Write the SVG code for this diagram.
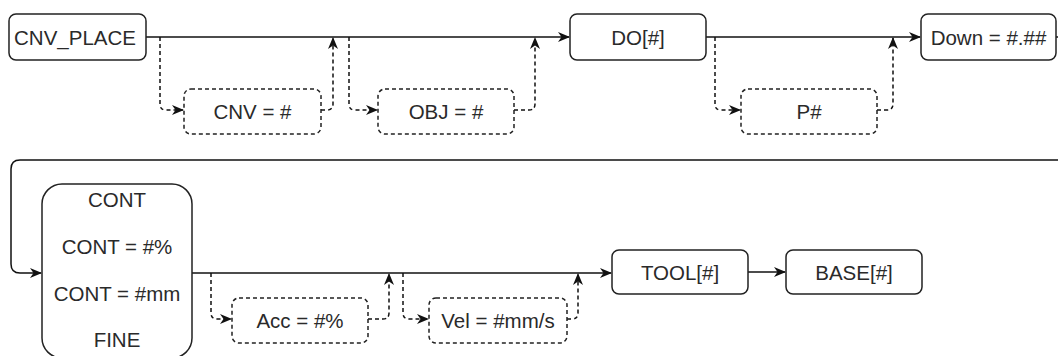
<svg xmlns="http://www.w3.org/2000/svg" width="1058" height="356" viewBox="0 0 1058 356">
<defs>
<style>
.box{fill:#fff;stroke:#222;stroke-width:1.5}
.dbox{fill:#fff;stroke:#222;stroke-width:1.5;stroke-dasharray:4 3}
.ln{fill:none;stroke:#111;stroke-width:1.5}
.dl{fill:none;stroke:#111;stroke-width:1.5;stroke-dasharray:4 3}
text{font-family:"Liberation Sans",Arial,sans-serif;font-size:20.5px;fill:#2a2a2a;text-anchor:middle;dominant-baseline:central}
</style>
<marker id="ah" viewBox="0 0 12 12" refX="11" refY="6" markerWidth="12" markerHeight="12" markerUnits="userSpaceOnUse" orient="auto">
<path d="M0,1 L12,6 L0,11 L3.5,6 Z" fill="#111"/>
</marker>
</defs>
<rect width="1058" height="356" fill="#fff"/>
<g id="connectors">
<path class="ln" d="M146,37 H569" marker-end="url(#ah)"/>
<path class="ln" d="M706,37 H920" marker-end="url(#ah)"/>
<path class="ln" d="M1056,37 H1058"/>
<path class="ln" d="M1058,160 H20 Q11,160 11,169 V264 Q11,273 20,273 H41" marker-end="url(#ah)"/>
<path class="ln" d="M192,273 H611" marker-end="url(#ah)"/>
<path class="ln" d="M748,272 H785" marker-end="url(#ah)"/>
<path class="dl" d="M160,37 V104 Q160,110 166,110 H183" marker-end="url(#ah)"/>
<path class="dl" d="M321,110 H327 Q333,110 333,104 V38" marker-end="url(#ah)"/>
<path class="dl" d="M349,37 V104 Q349,110 355,110 H377" marker-end="url(#ah)"/>
<path class="dl" d="M514,110 H529 Q535,110 535,104 V38" marker-end="url(#ah)"/>
<path class="dl" d="M715,37 V104 Q715,110 721,110 H740" marker-end="url(#ah)"/>
<path class="dl" d="M877,110 H887 Q893,110 893,104 V38" marker-end="url(#ah)"/>
<path class="dl" d="M211,273 V313 Q211,319 217,319 H231" marker-end="url(#ah)"/>
<path class="dl" d="M368,319 H383 Q389,319 389,313 V274" marker-end="url(#ah)"/>
<path class="dl" d="M403,273 V313 Q403,319 409,319 H428" marker-end="url(#ah)"/>
<path class="dl" d="M567,319 H572 Q578,319 578,313 V274" marker-end="url(#ah)"/>
</g>
<g id="cnv_place"><rect class="box" x="9" y="14" width="137" height="46" rx="7"/><text x="75" y="37">CNV_PLACE</text></g>
<g id="cnv"><rect class="dbox" x="184" y="89" width="137" height="45" rx="7"/><text x="252.5" y="111">CNV = #</text></g>
<g id="obj"><rect class="dbox" x="378" y="89" width="136" height="45" rx="7"/><text x="446" y="111">OBJ = #</text></g>
<g id="do"><rect class="box" x="570" y="14" width="136" height="46" rx="7"/><text x="638" y="37">DO[#]</text></g>
<g id="p"><rect class="dbox" x="741" y="89" width="136" height="45" rx="7"/><text x="809" y="111">P#</text></g>
<g id="down"><rect class="box" x="921" y="14" width="135" height="46" rx="7"/><text x="988.5" y="37">Down = #.##</text></g>
<g id="cont"><rect class="box" x="42" y="184" width="150" height="174" rx="20"/>
<text x="117" y="199">CONT</text><text x="117" y="246">CONT = #%</text><text x="117" y="293">CONT = #mm</text><text x="117" y="339">FINE</text></g>
<g id="acc"><rect class="dbox" x="232" y="298" width="136" height="45" rx="7"/><text x="300" y="320">Acc = #%</text></g>
<g id="vel"><rect class="dbox" x="429" y="298" width="138" height="45" rx="7"/><text x="498" y="320">Vel = #mm/s</text></g>
<g id="tool"><rect class="box" x="612" y="250" width="136" height="44" rx="7"/><text x="680" y="272">TOOL[#]</text></g>
<g id="base"><rect class="box" x="786" y="250" width="136" height="44" rx="7"/><text x="854" y="272">BASE[#]</text></g>
</svg>
